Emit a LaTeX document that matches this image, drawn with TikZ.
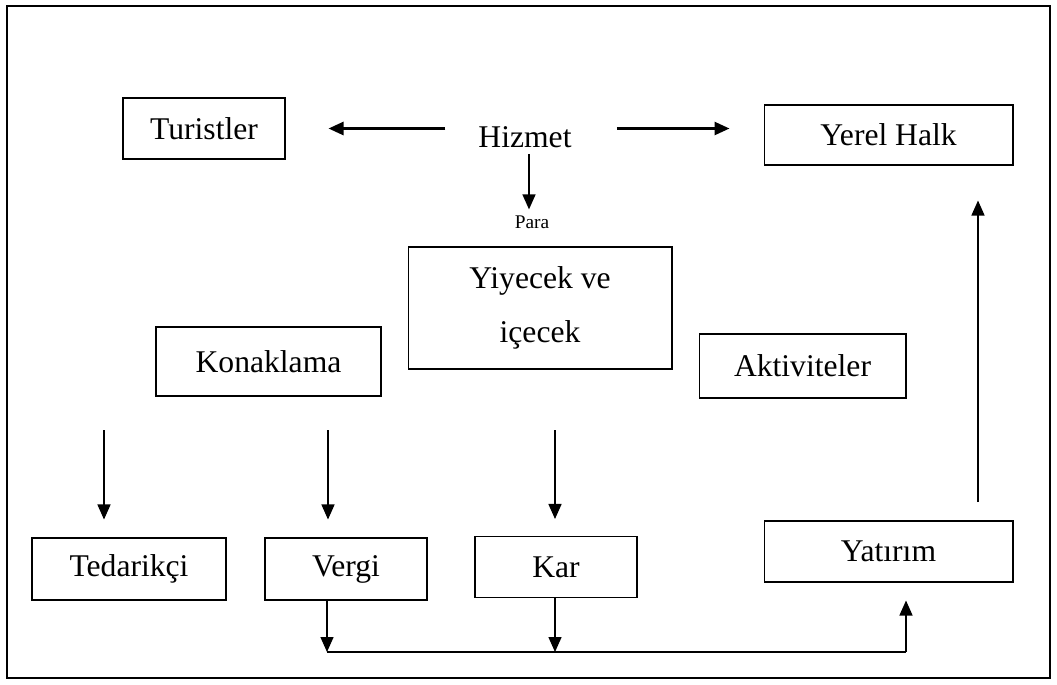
\documentclass[tikz,border=0pt]{standalone}
\usepackage{fontspec}
\setmainfont{Liberation Serif}
\usetikzlibrary{positioning, shapes}
\usetikzlibrary{arrows.meta}

\begin{document}
\begin{tikzpicture}[x=0.02cm, y=-0.02cm]
                \tikzset{box/.style = {draw, line width=0.6pt, inner sep=0pt, font=\fontsize{18}{21}\selectfont}}
                \tikzset{bigedge/.style = {-{Triangle[length=3mm,width=2.6mm]}, line width=1.5pt}}
                \tikzset{smalledge/.style = {-{Triangle[length=3mm,width=2.6mm]}, line width=0.8pt}}

                \useasboundingbox (0,0) rectangle (1057,684);
                \draw[line width=0.9pt] (7,6) rectangle (1050,678);

                \node[box, minimum width=3.24cm, minimum height=1.22cm] (turistler) at (204,128.5) {Turistler};
                \node[box, minimum width=4.98cm, minimum height=1.2cm] (yerel) at (888.5,135) {Yerel Halk};
                \node[font=\fontsize{18}{21}\selectfont] (hizmet) at (525,137) {Hizmet};
                \node[font=\fontsize{11}{13}\selectfont] (para) at (532,222) {Para};

                \node[box, minimum width=5.28cm, minimum height=2.44cm, align=center] (yiyecek) at (540,308) {Yiyecek ve\\[10pt] içecek};
                \node[box, minimum width=4.5cm, minimum height=1.38cm] (konaklama) at (268.5,361.5) {Konaklama};
                \node[box, minimum width=4.14cm, minimum height=1.28cm] (aktivite) at (802.5,366) {Aktiviteler};

                \node[box, minimum width=3.88cm, minimum height=1.24cm] (tedarikci) at (129,569) {Tedarikçi};
                \node[box, minimum width=3.24cm, minimum height=1.24cm] (vergi) at (346,569) {Vergi};
                \node[box, minimum width=3.24cm, minimum height=1.22cm] (kar) at (556,567) {Kar};
                \node[box, minimum width=4.98cm, minimum height=1.22cm] (yatirim) at (888.5,551.5) {Yatırım};

                \coordinate (t1) at (104,430);
                \coordinate (t2) at (328,430);
                \coordinate (t3) at (555,430);
                \coordinate (u1) at (978,502);
                \coordinate (v1) at (327,652);
                \coordinate (k1) at (555,652);
                \coordinate (y1) at (906,652);

                % hizmet arrows
                \draw[bigedge, shorten <=0.54cm, shorten >=0.86cm] (hizmet.west |- turistler.east) -- (turistler.east);
                \draw[bigedge, shorten <=0.78cm, shorten >=0.68cm] (hizmet.east |- turistler.east) -- (yerel.west |- turistler.east);
                \draw[smalledge] (hizmet.south -| 529,0) -- (para.north -| 529,0);

                % down arrows
                \draw[smalledge, shorten >=0.36cm] (t1) -- (t1 |- tedarikci.north);
                \draw[smalledge, shorten >=0.36cm] (t2) -- (t2 |- vergi.north);
                \draw[smalledge, shorten >=0.34cm] (t3) -- (t3 |- kar.north);
                \draw[smalledge, shorten >=0.7cm] (u1) -- (u1 |- yerel.south);

                % bottom
                \draw[smalledge] (v1 |- vergi.south) -- (v1);
                \draw[smalledge] (k1 |- kar.south) -- (k1);
                \draw[line width=0.8pt] (v1) -- (y1);
                \draw[smalledge, shorten >=0.36cm] (y1) -- (y1 |- yatirim.south);

\end{tikzpicture}
\end{document}
